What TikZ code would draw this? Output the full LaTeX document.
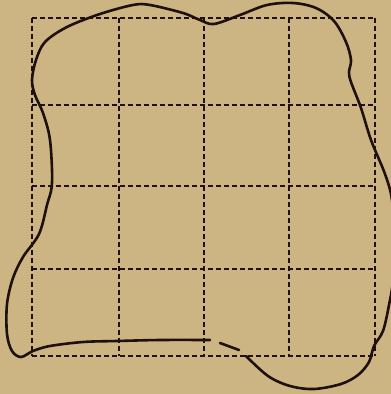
\documentclass[tikz,border=0pt]{standalone}
\definecolor{PaperTan}{HTML}{CDB483}
\definecolor{InkBrown}{HTML}{1E110D}
\tikzset{
  gridline/.style={draw=InkBrown, line width=2.3pt, dash pattern=on 5pt off 3pt},
  outline/.style={draw=InkBrown, line width=2.6pt, line cap=round, line join=round}
}

\begin{document}
\begin{tikzpicture}[x=1pt, y=-1pt]
\fill[PaperTan] (0,0) rectangle (391,394);
\useasboundingbox (0,0) rectangle (391,394);
\clip (0,0) rectangle (391,394);
% dashed 4x4 grid
\foreach \gx in {32,119,204,289,375}
  \draw[gridline] (\gx,18) -- (\gx,356);
\foreach \gy in {18,105,186,269,356}
  \draw[gridline] (32,\gy) -- (375,\gy);
% irregular outline
\draw[outline] plot[smooth, tension=0.55] coordinates {
  (246,356) (268,376) (290,386) (314,389) (341,384) (358,375) (369,362)
  (374,346) (383,331) (389,305) (393,280) (394,240) (392,200) (385,174)
  (371,140) (361,108) (351,82) (349,72) (351,60) (346,42) (334,21)
  (316,8) (293,3) (267,5) (240,15) (214,24) (200,20) (183,13) (150,5)
  (133,5) (100,14) (67,27) (45,42) (36,60) (32,80) (35,95) (43,113)
  (50,140) (52,183) (47,205) (39,234) (23,257) (13,278) (7,304) (7,334)
  (12,351) (21,357) (33,351) (50,346) (83,342) (117,341) (160,340)
  (210,340)
};
\draw[outline] (220,343) -- (239,350);
\end{tikzpicture}
\end{document}
